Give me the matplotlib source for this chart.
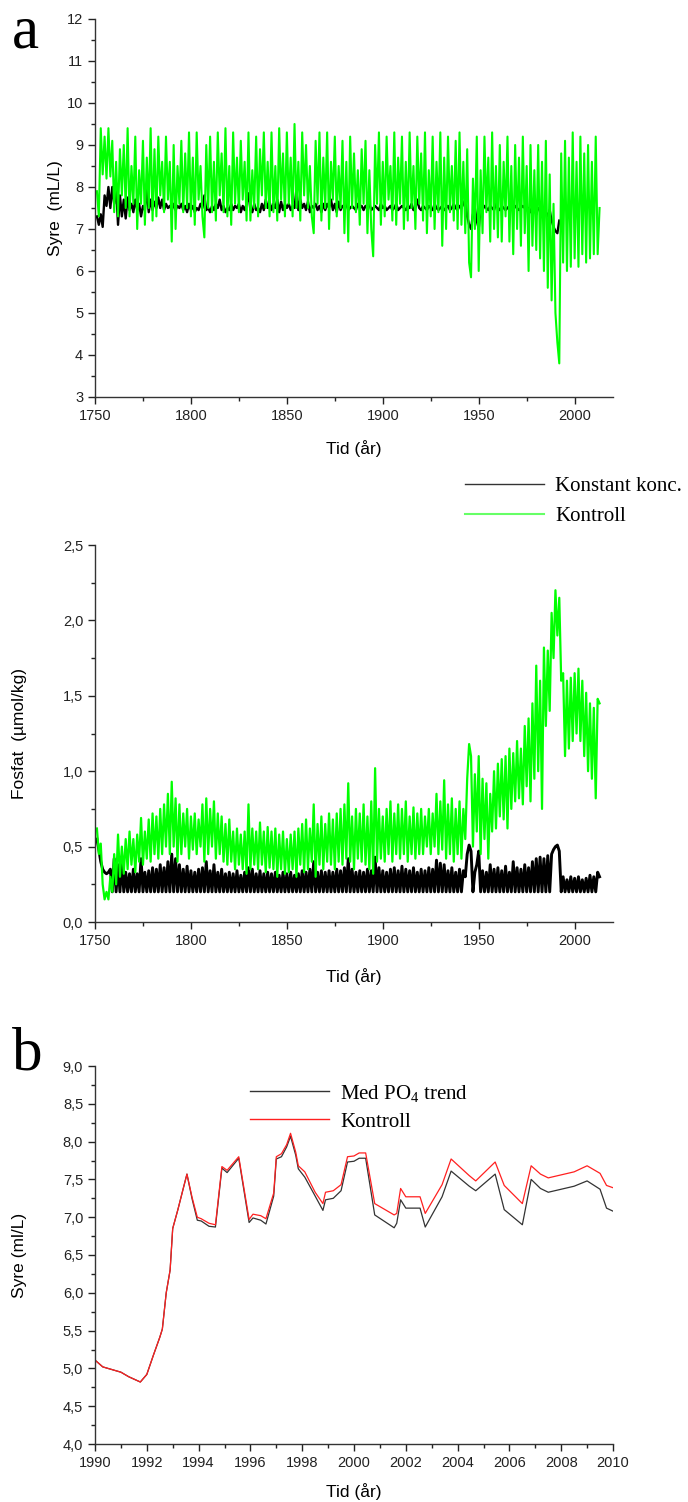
import numpy as np
import matplotlib
matplotlib.use("Agg")
import matplotlib.pyplot as plt
from matplotlib.ticker import MultipleLocator, FuncFormatter

plt.rcParams['font.family'] = ['Liberation Sans', 'DejaVu Sans']
plt.rcParams['mathtext.default'] = 'regular'

# ---- panel a, top: oxygen (mL/L), yearly values 1751-2013 ----
years_a = np.arange(1751, 2014)
syre_kontroll = [
    7.9, 7.3, 9.4, 8.3, 9.2, 8.2, 9.4, 8.25, 9.1, 7.4,
    8.6, 7.3, 8.9, 7.8, 9.0, 7.5, 9.4, 7.3, 8.5, 7.6,
    9.2, 7.0, 8.4, 7.6, 9.1, 7.1, 8.7, 7.5, 9.4, 7.2,
    8.9, 7.3, 9.2, 7.8, 8.6, 7.4, 9.2, 7.7, 8.6, 6.7,
    9.0, 7.0, 8.5, 7.6, 9.1, 7.4, 8.8, 7.5, 9.3, 7.3,
    8.7, 7.1, 9.3, 7.7, 8.5, 7.3, 6.8, 9.0, 7.5, 9.2,
    7.4, 8.6, 7.2, 9.3, 7.8, 8.8, 7.4, 9.4, 7.3, 8.5,
    7.1, 9.3, 7.6, 8.7, 7.4, 9.1, 7.7, 8.6, 7.2, 9.3,
    7.2, 8.4, 7.5, 9.2, 7.3, 8.9, 7.8, 9.3, 7.5, 8.6,
    7.3, 9.3, 7.4, 8.5, 7.2, 9.4, 7.7, 8.8, 7.3, 9.3,
    7.6, 8.7, 7.3, 9.5, 7.5, 8.6, 7.2, 9.3, 7.8, 9.0,
    7.5, 8.5, 7.3, 6.9, 9.1, 7.6, 9.3, 7.2, 8.7, 7.5,
    9.3, 7.0, 8.6, 7.7, 9.2, 7.3, 8.5, 7.5, 9.1, 6.9,
    8.6, 6.7, 9.2, 7.5, 8.8, 7.4, 8.4, 7.1, 8.9, 7.6,
    9.1, 6.9, 8.4, 7.0, 6.35, 9.0, 7.6, 9.3, 7.1, 8.6,
    7.3, 9.2, 7.7, 8.5, 7.2, 9.3, 7.1, 8.7, 7.6, 9.2,
    7.0, 8.6, 7.2, 9.3, 7.5, 8.5, 7.0, 9.2, 7.6, 8.8,
    7.2, 9.3, 6.9, 8.4, 7.3, 9.2, 7.0, 8.6, 7.4, 9.3,
    6.6, 8.7, 7.0, 9.2, 7.4, 8.5, 7.2, 9.1, 7.0, 9.3,
    7.1, 8.6, 6.9, 8.9, 6.2, 5.85, 8.2, 7.0, 9.2, 6.0,
    8.4, 6.9, 9.2, 7.4, 8.7, 6.7, 9.3, 7.0, 8.5, 6.8,
    9.0, 6.7, 8.6, 7.3, 9.2, 6.7, 8.5, 6.4, 9.0, 7.0,
    8.7, 6.6, 9.2, 6.9, 8.5, 6.0, 9.0, 6.6, 8.4, 6.5,
    9.0, 6.3, 8.6, 6.0, 9.1, 5.6, 8.3, 5.3, 7.6, 5.0,
    4.3, 3.8, 8.8, 6.2, 9.1, 6.0, 8.7, 6.1, 9.3, 6.3,
    8.6, 6.1, 9.2, 6.4, 8.8, 6.2, 9.0, 6.3, 8.6, 6.4,
    9.2, 6.4, 7.5,
]
years_a_konst = np.arange(1751, 1993)
syre_konstant = [
    7.3, 7.1, 7.35, 7.05, 7.8, 7.55, 8.0, 7.5, 8.0, 7.6,
    8.0, 7.1, 7.8, 7.3, 7.7, 7.25, 7.75, 7.45, 7.6, 7.4,
    7.7, 7.45, 7.6, 7.3, 7.55, 7.45, 7.95, 7.4, 7.7, 7.45,
    7.65, 7.5, 7.75, 7.5, 7.7, 7.45, 7.6, 7.5, 7.55, 7.45,
    7.6, 7.45, 7.55, 7.5, 7.6, 7.45, 7.55, 7.4, 7.6, 7.45,
    7.55, 7.4, 7.5, 7.45, 7.6, 7.5, 7.8, 7.45, 7.5, 7.4,
    7.55, 7.45, 7.6, 7.5, 7.7, 7.45, 7.55, 7.4, 7.5, 7.45,
    7.6, 7.45, 7.55, 7.5, 7.6, 7.4, 7.55, 7.45, 7.6, 7.85,
    7.45, 7.4, 7.6, 7.45, 7.5, 7.4, 7.6, 7.45, 7.7, 7.5,
    7.65, 7.45, 7.6, 7.5, 7.7, 7.4, 7.65, 7.45, 7.6, 7.5,
    7.6, 7.45, 7.55, 7.5, 7.95, 7.45, 7.7, 7.5, 7.6, 7.45,
    7.65, 7.4, 7.55, 7.5, 7.6, 7.45, 7.55, 7.4, 7.6, 7.45,
    7.6, 7.5, 7.7, 7.45, 7.6, 7.4, 7.65, 7.45, 7.55, 7.5,
    7.6, 7.45, 7.5, 7.55, 7.5, 7.45, 7.6, 7.5, 7.55, 7.45,
    7.55, 7.5, 7.6, 7.45, 7.5, 7.55, 7.5, 7.45, 7.6, 7.5,
    7.55, 7.45, 7.5, 7.55, 7.45, 7.5, 7.6, 7.45, 7.5, 7.55,
    7.5, 7.45, 7.55, 7.5, 7.6, 7.45, 7.5, 7.7, 7.5, 7.45,
    7.55, 7.5, 7.45, 7.55, 7.5, 7.45, 7.6, 7.5, 7.45, 7.5,
    7.55, 7.45, 7.5, 7.55, 7.45, 7.5, 7.6, 7.5, 7.45, 7.55,
    7.5, 7.6, 7.7, 7.3, 7.1, 7.0, 7.35, 7.5, 7.2, 7.0,
    7.5, 7.45, 7.55, 7.5, 7.45, 7.55, 7.5, 7.45, 7.6, 7.5,
    7.45, 7.55, 7.5, 7.45, 7.5, 7.55, 7.5, 7.45, 7.55, 7.5,
    7.45, 7.5, 7.55, 7.5, 7.45, 7.5, 7.4, 7.55, 7.5, 7.35,
    7.5, 7.45, 7.35, 7.5, 7.4, 7.3, 7.45, 7.2, 7.05, 6.95,
    6.9, 7.2,
]

# ---- panel a, bottom: phosphate (umol/kg), yearly values 1751-2013 ----
fosfat_kontroll = [
    0.62, 0.45, 0.52, 0.25, 0.15, 0.2, 0.15, 0.3, 0.2, 0.45,
    0.25, 0.58, 0.3, 0.5, 0.32, 0.55, 0.35, 0.6, 0.38, 0.55,
    0.33, 0.58, 0.4, 0.69, 0.38, 0.6, 0.42, 0.68, 0.4, 0.72,
    0.45, 0.7, 0.42, 0.75, 0.45, 0.78, 0.5, 0.85, 0.45, 0.93,
    0.5, 0.82, 0.4, 0.78, 0.45, 0.72, 0.5, 0.75, 0.42, 0.7,
    0.48, 0.72, 0.45, 0.68, 0.5, 0.78, 0.4, 0.82, 0.45, 0.75,
    0.5, 0.8, 0.42, 0.72, 0.45, 0.7, 0.4, 0.65, 0.38, 0.68,
    0.4, 0.6, 0.35, 0.62, 0.38, 0.58, 0.35, 0.6, 0.32, 0.78,
    0.35, 0.62, 0.38, 0.6, 0.35, 0.66, 0.38, 0.6, 0.33, 0.63,
    0.36, 0.6, 0.35, 0.62, 0.3, 0.58, 0.35, 0.6, 0.32, 0.55,
    0.33, 0.58, 0.35, 0.6, 0.3, 0.62, 0.38, 0.65, 0.33, 0.68,
    0.35, 0.62, 0.4, 0.78, 0.3, 0.65, 0.38, 0.7, 0.35, 0.65,
    0.4, 0.72, 0.38, 0.68, 0.35, 0.72, 0.4, 0.75, 0.38, 0.78,
    0.42, 0.92, 0.4, 0.7, 0.35, 0.75, 0.42, 0.72, 0.4, 0.78,
    0.38, 0.7, 0.35, 0.8, 0.32, 1.02, 0.4, 0.75, 0.42, 0.7,
    0.4, 0.75, 0.45, 0.8, 0.4, 0.72, 0.45, 0.78, 0.42, 0.75,
    0.45, 0.8, 0.4, 0.7, 0.45, 0.76, 0.42, 0.72, 0.45, 0.75,
    0.45, 0.7, 0.5, 0.75, 0.45, 0.72, 0.5, 0.85, 0.45, 0.8,
    0.48, 0.94, 0.42, 0.78, 0.45, 0.82, 0.4, 0.75, 0.45, 0.8,
    0.42, 0.75, 0.55, 0.95, 1.18, 1.1, 0.5, 0.98, 0.6, 1.1,
    0.45, 0.95, 0.55, 0.92, 0.42, 0.85, 0.6, 1.0, 0.62, 1.05,
    0.7, 1.08, 0.68, 1.1, 0.62, 1.15, 0.75, 1.12, 0.8, 1.2,
    0.82, 1.15, 0.78, 1.3, 0.9, 1.35, 0.8, 1.45, 0.95, 1.7,
    1.0, 1.6, 0.75, 1.82, 1.3, 1.8, 1.4, 2.05, 1.75, 2.2,
    1.9, 2.15, 1.6, 1.65, 1.1, 1.6, 1.15, 1.62, 1.2, 1.65,
    1.25, 1.68, 1.2, 1.6, 1.1, 1.52, 1.0, 1.45, 0.95, 1.42,
    0.82, 1.48, 1.45,
]
fosfat_konstant = [
    0.55, 0.48, 0.4, 0.35, 0.33, 0.32, 0.33, 0.35, 0.2, 0.42,
    0.2, 0.38, 0.2, 0.4, 0.2, 0.33, 0.2, 0.32, 0.2, 0.35,
    0.2, 0.32, 0.2, 0.42, 0.2, 0.33, 0.2, 0.34, 0.2, 0.36,
    0.2, 0.35, 0.2, 0.38, 0.2, 0.36, 0.2, 0.4, 0.2, 0.45,
    0.2, 0.42, 0.2, 0.38, 0.2, 0.35, 0.2, 0.37, 0.2, 0.34,
    0.2, 0.33, 0.2, 0.35, 0.2, 0.36, 0.2, 0.4, 0.2, 0.34,
    0.2, 0.38, 0.2, 0.33, 0.2, 0.35, 0.2, 0.32, 0.2, 0.33,
    0.2, 0.32, 0.2, 0.34, 0.2, 0.31, 0.2, 0.33, 0.2, 0.36,
    0.2, 0.35, 0.2, 0.32, 0.2, 0.34, 0.2, 0.32, 0.2, 0.33,
    0.2, 0.32, 0.2, 0.33, 0.2, 0.31, 0.2, 0.33, 0.2, 0.32,
    0.2, 0.33, 0.2, 0.31, 0.2, 0.32, 0.2, 0.34, 0.2, 0.33,
    0.2, 0.35, 0.2, 0.4, 0.2, 0.33, 0.2, 0.34, 0.2, 0.33,
    0.2, 0.34, 0.2, 0.33, 0.2, 0.35, 0.2, 0.34, 0.2, 0.36,
    0.2, 0.42, 0.2, 0.35, 0.2, 0.33, 0.2, 0.34, 0.2, 0.33,
    0.2, 0.35, 0.2, 0.34, 0.2, 0.43, 0.2, 0.36, 0.2, 0.34,
    0.2, 0.33, 0.2, 0.35, 0.2, 0.36, 0.2, 0.34, 0.2, 0.37,
    0.2, 0.35, 0.2, 0.34, 0.2, 0.36, 0.2, 0.33, 0.2, 0.35,
    0.2, 0.34, 0.2, 0.36, 0.2, 0.35, 0.2, 0.41, 0.2, 0.39,
    0.2, 0.38, 0.2, 0.34, 0.2, 0.36, 0.2, 0.33, 0.2, 0.35,
    0.2, 0.34, 0.3, 0.45, 0.51, 0.47, 0.2, 0.33, 0.38, 0.47,
    0.2, 0.34, 0.2, 0.33, 0.2, 0.38, 0.2, 0.35, 0.2, 0.36,
    0.2, 0.34, 0.2, 0.37, 0.2, 0.33, 0.2, 0.4, 0.2, 0.36,
    0.2, 0.35, 0.2, 0.38, 0.2, 0.36, 0.2, 0.4, 0.2, 0.42,
    0.2, 0.43, 0.2, 0.42, 0.2, 0.44, 0.2, 0.45, 0.48, 0.5,
    0.51, 0.47, 0.2, 0.3, 0.2, 0.28, 0.2, 0.3, 0.2, 0.29,
    0.2, 0.3, 0.2, 0.28, 0.2, 0.29, 0.2, 0.31, 0.2, 0.3,
    0.2, 0.33, 0.3,
]

# ---- panel b: oxygen 1990-2010 ----
years_b = [1990.0, 1990.3, 1990.6, 1991.0, 1991.3, 1991.75, 1992.0, 1992.25,
           1992.5, 1992.6, 1992.75, 1992.9, 1993.0, 1993.2, 1993.4, 1993.55,
           1993.75, 1993.95, 1994.1, 1994.4, 1994.65, 1994.9, 1995.1, 1995.55,
           1995.95, 1996.1, 1996.4, 1996.6, 1996.9, 1997.0, 1997.2, 1997.4,
           1997.55, 1997.75, 1997.85, 1998.1, 1998.5, 1998.8, 1998.9, 1999.2,
           1999.5, 1999.75, 2000.0, 2000.2, 2000.45, 2000.8, 2001.55, 2001.65,
           2001.8, 2002.0, 2002.55, 2002.75, 2003.4, 2003.75, 2004.45, 2004.7,
           2005.45, 2005.8, 2006.5, 2006.84, 2007.2, 2007.5, 2008.0, 2008.5,
           2009.0, 2009.5, 2009.75, 2010.0]
syre_kontroll_b = [5.11, 5.02, 4.99, 4.95, 4.89, 4.82, 4.92, 5.17,
                   5.41, 5.52, 6.0, 6.3, 6.85, 7.1, 7.37, 7.57,
                   7.26, 7.0, 6.98, 6.92, 6.90, 7.67, 7.62, 7.80,
                   6.97, 7.04, 7.02, 6.98, 7.32, 7.8, 7.84, 7.96,
                   8.11, 7.86, 7.68, 7.6, 7.33, 7.18, 7.33, 7.35,
                   7.43, 7.8, 7.81, 7.85, 7.85, 7.18, 7.03, 7.05,
                   7.38, 7.27, 7.27, 7.05, 7.43, 7.77, 7.55, 7.48,
                   7.73, 7.42, 7.18, 7.68, 7.57, 7.52, 7.56, 7.60,
                   7.68, 7.58, 7.42, 7.39]
syre_po4_b = [5.11, 5.02, 4.99, 4.95, 4.89, 4.82, 4.92, 5.17,
              5.41, 5.52, 6.0, 6.3, 6.85, 7.1, 7.37, 7.57,
              7.24, 6.96, 6.95, 6.88, 6.87, 7.65, 7.59, 7.78,
              6.93, 6.99, 6.96, 6.91, 7.28, 7.77, 7.80, 7.93,
              8.07, 7.82, 7.64, 7.53, 7.28, 7.09, 7.23, 7.25,
              7.35, 7.73, 7.74, 7.78, 7.78, 7.03, 6.86, 6.92,
              7.23, 7.12, 7.12, 6.87, 7.27, 7.61, 7.41, 7.35,
              7.57, 7.10, 6.90, 7.50, 7.38, 7.33, 7.37, 7.41,
              7.48, 7.37, 7.12, 7.08]


def comma(v, pos):
    return f"{v:.1f}".replace('.', ',')


def style(ax, xlo, xhi, xmaj, xmin, ylo, yhi, ymaj, ymin):
    ax.set_xlim(xlo, xhi)
    ax.set_ylim(ylo, yhi)
    for s in ['top', 'right']:
        ax.spines[s].set_visible(False)
    for s in ['left', 'bottom']:
        ax.spines[s].set_linewidth(1.0)
        ax.spines[s].set_color('#333333')
    ax.xaxis.set_major_locator(MultipleLocator(xmaj))
    ax.xaxis.set_minor_locator(MultipleLocator(xmin))
    ax.yaxis.set_major_locator(MultipleLocator(ymaj))
    ax.yaxis.set_minor_locator(MultipleLocator(ymin))
    ax.tick_params(which='major', direction='out', length=5, width=1,
                   labelsize=10.5, colors='#222222')
    ax.tick_params(which='minor', direction='out', length=3, width=1,
                   colors='#222222')


fig = plt.figure(figsize=(6.88, 15.02), dpi=100)
H = 1502.0
W = 688.0


def add_axes(top_px, bottom_px):
    return fig.add_axes([95 / W, 1 - bottom_px / H, 518 / W, (bottom_px - top_px) / H])


# panel a top
ax1 = add_axes(19, 397)
ax1.plot(years_a_konst, syre_konstant, color='black', lw=1.7)
ax1.plot(years_a, syre_kontroll, color='#00ff00', lw=1.5)
style(ax1, 1750, 2020, 50, 25, 3, 12, 1, 0.5)
ax1.set_ylabel('Syre  (mL/L)', fontsize=12.5)
ax1.yaxis.set_label_coords(-0.062, 0.5)
ax1.set_xlabel('Tid (år)', fontsize=12.5)
ax1.xaxis.set_label_coords(0.5, -0.115)
fig.text(12 / W, 1 - 48 / H, 'a', fontsize=44, family='Liberation Serif')

# panel a bottom
ax2 = add_axes(545, 922)
ax2.plot(years_a, fosfat_konstant, color='black', lw=2.1)
ax2.plot(years_a, fosfat_kontroll, color='#00ff00', lw=1.6)
style(ax2, 1750, 2020, 50, 25, 0, 2.5, 0.5, 0.25)
ax2.yaxis.set_major_formatter(FuncFormatter(comma))
ax2.set_ylabel('Fosfat  (\u00b5mol/kg)', fontsize=12.5)
ax2.yaxis.set_label_coords(-0.131, 0.5)
ax2.set_xlabel('Tid (år)', fontsize=12.5)
ax2.xaxis.set_label_coords(0.5, -0.122)

h1 = plt.Line2D([], [], color='#333333', lw=1.0)
h2 = plt.Line2D([], [], color='#66ff66', lw=1.5)
fig.legend([h1, h2], ['Konstant konc.', 'Kontroll'], loc='upper left',
           bbox_to_anchor=(446 / W, 1 - 458 / H), frameon=False,
           prop={'family': 'Liberation Serif', 'size': 15},
           handlelength=3.8, handletextpad=0.55, labelspacing=0.5)

# panel b
ax3 = add_axes(1066, 1444)
ax3.plot(years_b, syre_po4_b, color='#333333', lw=0.9)
ax3.plot(years_b, syre_kontroll_b, color='#ff2020', lw=0.9)
style(ax3, 1990, 2010, 2, 1, 4.0, 9.0, 0.5, 0.25)
ax3.yaxis.set_major_formatter(FuncFormatter(comma))
ax3.set_ylabel('Syre (ml/L)', fontsize=12.5)
ax3.yaxis.set_label_coords(-0.131, 0.5)
ax3.set_xlabel('Tid (år)', fontsize=12.5)
ax3.xaxis.set_label_coords(0.5, -0.103)
fig.text(12 / W, 1 - 1070 / H, 'b', fontsize=44, family='Liberation Serif')

hb1 = plt.Line2D([], [], color='#333333', lw=1.0)
hb2 = plt.Line2D([], [], color='#ff2020', lw=1.0)
fig.legend([hb1, hb2], ['Med PO$_4$ trend', 'Kontroll'], loc='upper left',
           bbox_to_anchor=(231 / W, 1 - 1064 / H), frameon=False,
           prop={'family': 'Liberation Serif', 'size': 15},
           handlelength=3.8, handletextpad=0.55, labelspacing=0.4)

fig.savefig('out.png', dpi=100)
